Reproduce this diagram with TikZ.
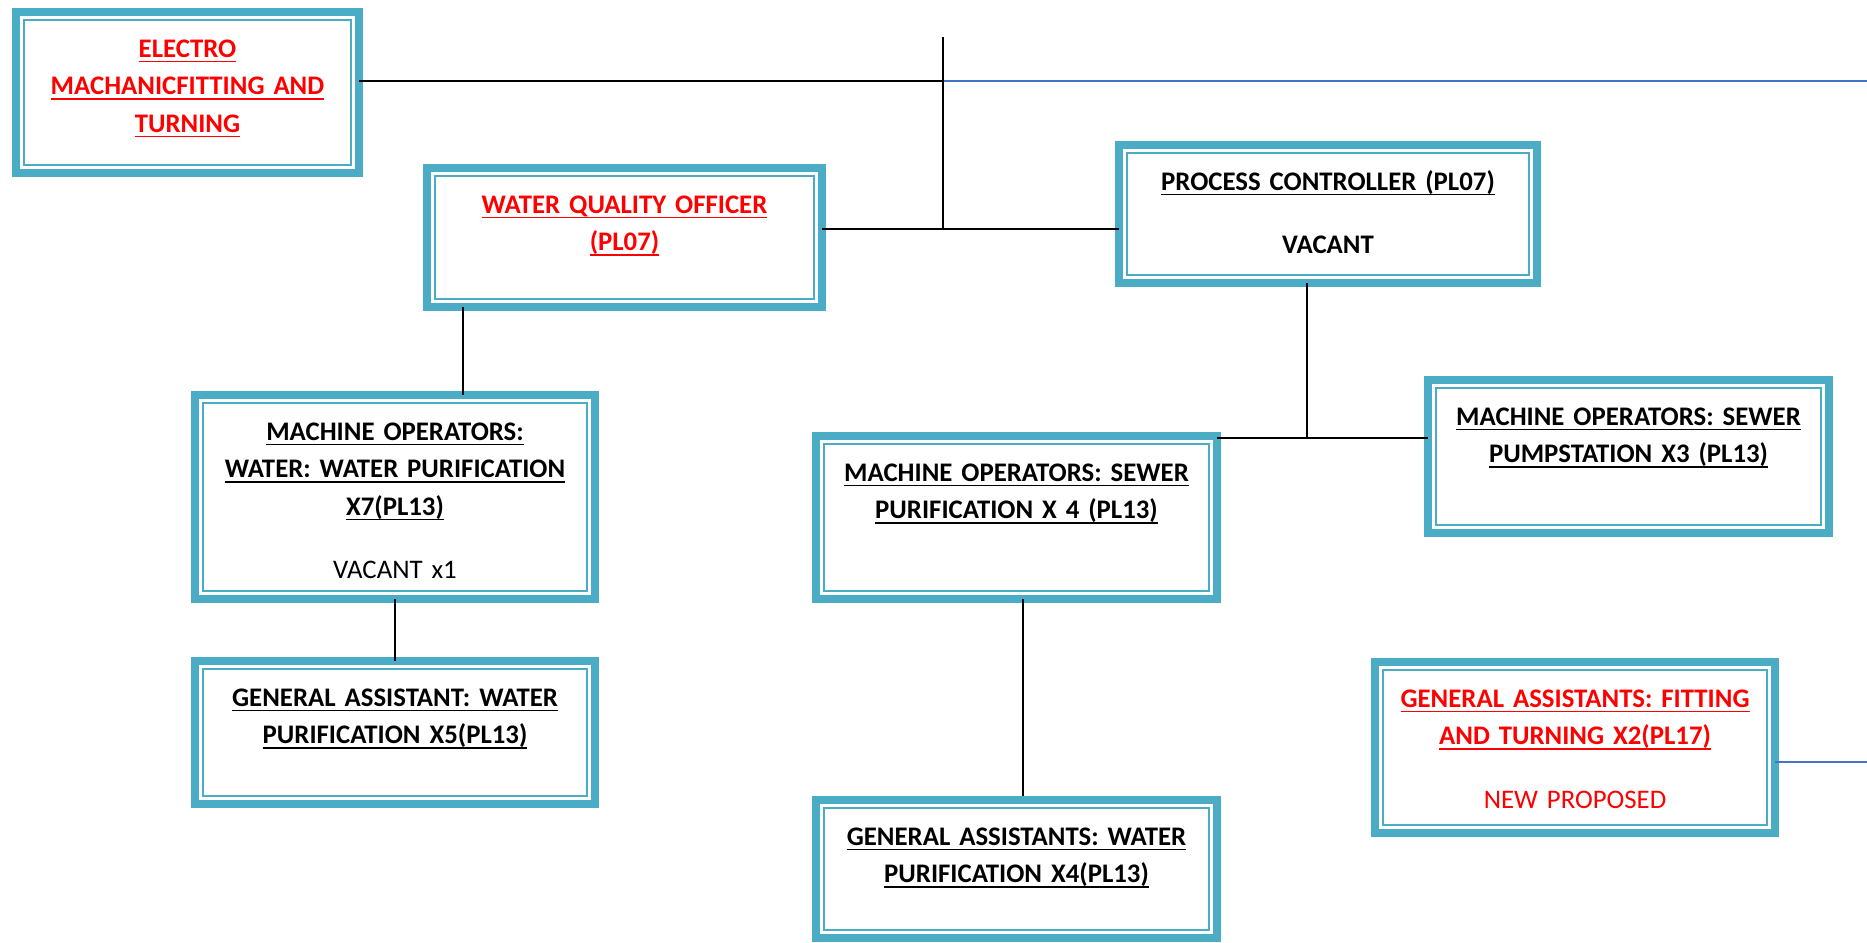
\documentclass[tikz,border=0pt]{standalone}
\usepackage{fontspec}
\setmainfont{Carlito}
\usepackage{tikz}
\definecolor{boxblue}{HTML}{4BACC6}
\definecolor{lineblue}{HTML}{4472C4}
\definecolor{titlered}{HTML}{FF0000}
\newcommand{\uln}[1]{\leavevmode\setbox0\hbox{#1}\rlap{\rule[-2.55pt]{\wd0}{0.75pt}}\box0}
\tikzset{
  post/.style 2 args={draw=boxblue, line width=4pt, anchor=north, inner sep=0pt, outer sep=0pt,
    text width=#1, text height=22.5pt, text depth=#2, align=center,
    font=\fontsize{13.4}{18.75}\selectfont\bfseries,
    path picture={\draw[boxblue, line width=0.8pt]
      ([shift={(4pt,-4pt)}]path picture bounding box.north west) rectangle
      ([shift={(-4pt,4pt)}]path picture bounding box.south east);}},
  link/.style={draw=black, line width=1pt},
  blueline/.style={draw=lineblue, line width=1pt}
}

\begin{document}
\begin{tikzpicture}[x=0.5pt, y=-0.5pt]
\useasboundingbox (0,0) rectangle (1867,942);

\node[post={171.5pt}{58pt}, text=titlered] (elec) at (187.5,12)
  {\uln{ELECTRO}\\\uln{MACHANICFITTING AND}\\\uln{TURNING}};
\node[post={197.5pt}{47pt}, text=titlered] (wqo) at (624.5,168)
  {\uln{WATER QUALITY OFFICER}\\\uln{(PL07)}};
\node[post={209pt}{46.5pt}] (pc) at (1328,145)
  {\uln{PROCESS CONTROLLER (PL07)}\\[12.75pt]VACANT};
\node[post={200pt}{79.5pt}] (mow) at (395,395)
  {\uln{MACHINE OPERATORS:}\\\uln{WATER: WATER PURIFICATION}\\\uln{X7(PL13)}\\[12.75pt]\mdseries VACANT x1};
\node[post={200pt}{49pt}] (gaw5) at (395,661)
  {\uln{GENERAL ASSISTANT: WATER}\\\uln{PURIFICATION X5(PL13)}};
\node[post={200.5pt}{59pt}] (mos) at (1016.5,436)
  {\uln{MACHINE OPERATORS: SEWER}\\\uln{PURIFICATION X 4 (PL13)}};
\node[post={200.5pt}{46.5pt}] (gaw4) at (1016.5,800)
  {\uln{GENERAL ASSISTANTS: WATER}\\\uln{PURIFICATION X4(PL13)}};
\node[post={200.5pt}{54pt}] (mop) at (1628.5,380)
  {\uln{MACHINE OPERATORS: SEWER}\\\uln{PUMPSTATION X3 (PL13)}};
\node[post={200pt}{63pt}, text=titlered] (gaf) at (1575,662)
  {\uln{GENERAL ASSISTANTS: FITTING}\\\uln{AND TURNING X2(PL17)}\\[13pt]\mdseries NEW PROPOSED};

\coordinate (hub) at (943,81);
\coordinate (hubtop) at (943,37);
\coordinate (hubend) at (1867,81);
\coordinate (wqojoin) at (943,229);
\coordinate (pcjoin) at (1307,438);
\coordinate (gafend) at (1867,762);

\draw[link] (hub -| elec.east) -- (hub);
\draw[blueline] (hub) -- (hubend);
\draw[link] (hubtop) -- (wqojoin);
\draw[link] (wqojoin -| wqo.east) -- (wqojoin) -- (wqojoin -| pc.west);
\draw[link] ([xshift=18pt]wqo.south west) -- ([xshift=18pt]wqo.south west |- mow.north);
\draw[link] (mow.south) -- (gaw5.north);
\draw[link] (pc.south -| pcjoin) -- (pcjoin);
\draw[link] (pcjoin -| mos.east) -- (pcjoin -| mop.west);
\draw[link] ([xshift=3.25pt]mos.south) -- ([xshift=3.25pt,yshift=2pt]gaw4.north);
\draw[blueline] (gaf.east |- gafend) -- (gafend);
\end{tikzpicture}
\end{document}
